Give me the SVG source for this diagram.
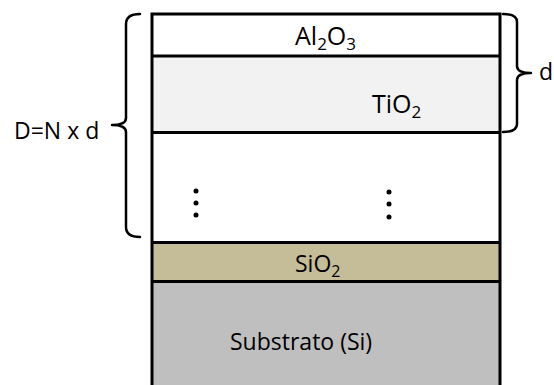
<svg xmlns="http://www.w3.org/2000/svg" width="554" height="385" viewBox="0 0 554 385">
  <style>
    .lbl { font-family: "Open Sans", "Liberation Sans", sans-serif; font-size: 23px; fill: #000; }
    .big { font-size: 25px; }
    .sub { font-size: 17px; }
    .sub2 { font-size: 16px; }
    .edge { stroke: #000; stroke-width: 3; fill: none; }
    .brace { stroke: #000; stroke-width: 2.5; fill: none; stroke-linecap: round; stroke-linejoin: round; }
    .dot { fill: #000; }
  </style>
  <rect width="554" height="385" fill="#fff"/>

  <g id="layer-al2o3">
    <rect x="152" y="14" width="348" height="42" fill="#ffffff"/>
    <text class="lbl big" x="295" y="45">Al<tspan class="sub" dy="5">2</tspan><tspan dy="-5">O</tspan><tspan class="sub" dy="5">3</tspan></text>
  </g>

  <g id="layer-tio2">
    <rect x="152" y="56" width="348" height="76.5" fill="#f2f2f2"/>
    <text class="lbl big" x="372" y="113">TiO<tspan class="sub" dy="5">2</tspan></text>
  </g>

  <g id="layer-repeat">
    <rect x="152" y="132.5" width="348" height="110" fill="#ffffff"/>
    <circle class="dot" cx="196" cy="191" r="2.5"/>
    <circle class="dot" cx="196" cy="203" r="2.5"/>
    <circle class="dot" cx="196" cy="215" r="2.5"/>
    <circle class="dot" cx="389" cy="192" r="2.5"/>
    <circle class="dot" cx="389" cy="204" r="2.5"/>
    <circle class="dot" cx="389" cy="217" r="2.5"/>
  </g>

  <g id="layer-sio2">
    <rect x="152" y="242.5" width="348" height="39" fill="#c4bd97"/>
    <text class="lbl" x="295" y="272">SiO<tspan class="sub2" dy="5">2</tspan></text>
  </g>

  <g id="layer-substrate">
    <rect x="152" y="281.5" width="348" height="110" fill="#bfbfbf"/>
    <text class="lbl" x="230" y="350">Substrato (Si)</text>
  </g>

  <g id="outlines">
    <path class="edge" d="M152 385 V14 H500 V385"/>
    <path class="edge" d="M152 56 H500 M152 132.5 H500 M152 242.5 H500 M152 281.5 H500"/>
  </g>

  <g id="annotations">
    <g id="brace-D">
      <path class="brace" d="M140 14 Q126 14 126 24 V118 Q126 125 112 125 Q126 125 126 132 V227 Q126 237 140 237"/>
      <text class="lbl" x="14" y="139" font-size="24">D=N x d</text>
    </g>
    <g id="brace-d">
      <path class="brace" d="M503 14 Q517 14 517 22 V66 Q517 73 531 73 Q517 73 517 80 V124 Q517 132 503 132"/>
      <text class="lbl" x="539" y="80" font-size="24">d</text>
    </g>
  </g>
</svg>
